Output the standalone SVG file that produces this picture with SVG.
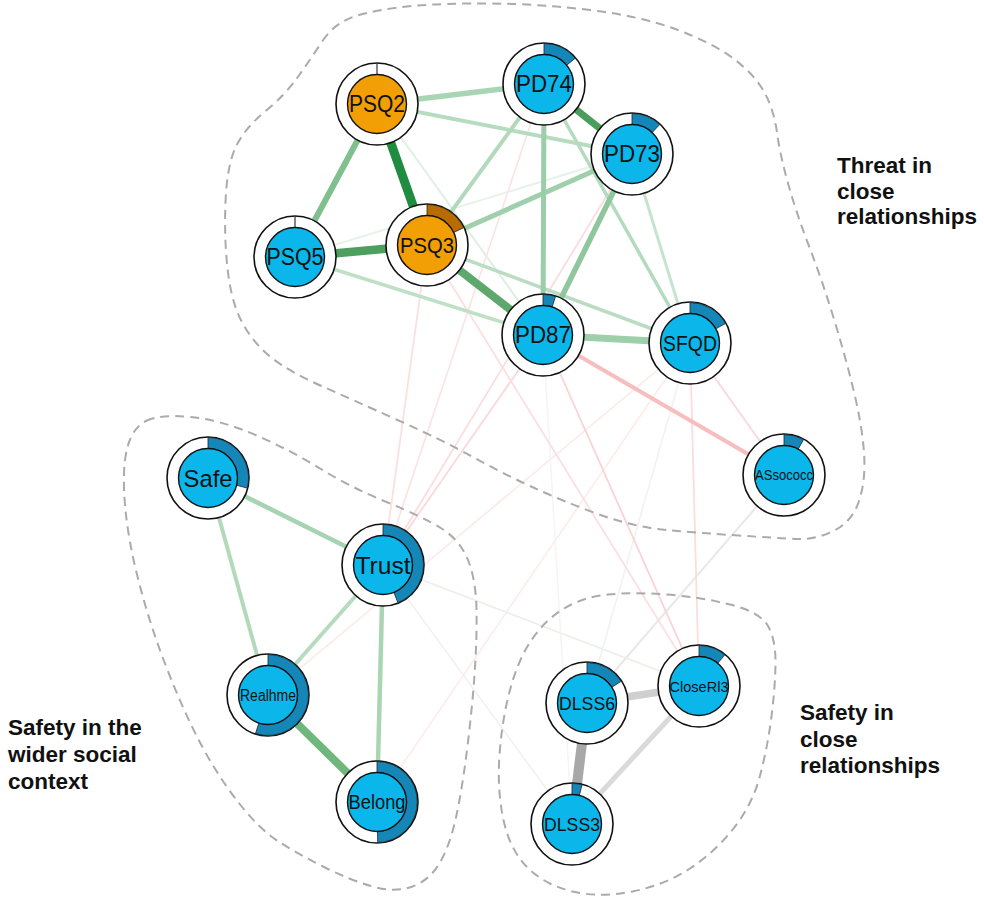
<svg xmlns="http://www.w3.org/2000/svg" width="984" height="901" viewBox="0 0 984 901">
<style>
.outer{fill:#fff;stroke:#111;stroke-width:1.6}
.inner{stroke:#111;stroke-width:1.4}
.blue .inner{fill:#0bb6ea}
.orange .inner{fill:#f29e05}
.blue .pie{fill:#1487b8;stroke:#222;stroke-width:0.8}
.orange .pie{fill:#b86c00;stroke:#222;stroke-width:0.8}
.tick{stroke:#333;stroke-width:1.2}
.lbl{font-family:"Liberation Sans",Arial,sans-serif;text-anchor:middle;dominant-baseline:central;fill:#111}
.hull{fill:none;stroke:#ababab;stroke-width:2;stroke-dasharray:9 6}
.grp{font-family:"Liberation Sans",Arial,sans-serif;font-weight:bold;font-size:22.5px;fill:#111}
#edges line{stroke-linecap:butt}
</style>
<rect width="984" height="901" fill="#fff"/>
<g id="edges">
  <line x1="690" y1="343" x2="377" y2="802" stroke="#fdeaeb" stroke-width="1.5"/>
  <line x1="268" y1="695" x2="690" y2="343" stroke="#fde8e9" stroke-width="1.6"/>
  <line x1="784" y1="475" x2="587" y2="703" stroke="#e8e8e8" stroke-width="2"/>
  <line x1="383" y1="565" x2="699" y2="686" stroke="#e8f0ea" stroke-width="1.5"/>
  <line x1="383" y1="565" x2="572" y2="824" stroke="#f0f0f0" stroke-width="1.5"/>
  <line x1="690" y1="343" x2="587" y2="703" stroke="#f1f1f1" stroke-width="1.5"/>
  <line x1="543" y1="335" x2="572" y2="824" stroke="#f4f4f4" stroke-width="1.5"/>
  <line x1="377" y1="104" x2="543" y2="335" stroke="#dfefe2" stroke-width="2"/>
  <line x1="295" y1="257" x2="632" y2="154" stroke="#e6f3e8" stroke-width="2"/>
  <line x1="427" y1="245" x2="383" y2="565" stroke="#fce0e1" stroke-width="1.8"/>
  <line x1="544" y1="84" x2="383" y2="565" stroke="#fce2e3" stroke-width="1.6"/>
  <line x1="632" y1="154" x2="383" y2="565" stroke="#fcdcde" stroke-width="1.8"/>
  <line x1="543" y1="335" x2="383" y2="565" stroke="#fbd9db" stroke-width="1.8"/>
  <line x1="543" y1="335" x2="699" y2="686" stroke="#fad3d5" stroke-width="1.8"/>
  <line x1="427" y1="245" x2="699" y2="686" stroke="#fcdfe0" stroke-width="1.8"/>
  <line x1="690" y1="343" x2="699" y2="686" stroke="#fcdcde" stroke-width="1.8"/>
  <line x1="690" y1="343" x2="784" y2="475" stroke="#fbd8da" stroke-width="1.8"/>
  <line x1="543" y1="335" x2="784" y2="475" stroke="#f7bec0" stroke-width="4"/>
  <line x1="427" y1="245" x2="690" y2="343" stroke="#b9dcc2" stroke-width="3.5"/>
  <line x1="295" y1="257" x2="543" y2="335" stroke="#bfe0c7" stroke-width="3.5"/>
  <line x1="544" y1="84" x2="690" y2="343" stroke="#b4dbbd" stroke-width="3.5"/>
  <line x1="632" y1="154" x2="690" y2="343" stroke="#c6e4cd" stroke-width="3"/>
  <line x1="377" y1="104" x2="632" y2="154" stroke="#b6dcc0" stroke-width="4"/>
  <line x1="544" y1="84" x2="427" y2="245" stroke="#b2d9bb" stroke-width="4"/>
  <line x1="632" y1="154" x2="427" y2="245" stroke="#a0d0ab" stroke-width="5"/>
  <line x1="377" y1="104" x2="544" y2="84" stroke="#a8d5b3" stroke-width="5.5"/>
  <line x1="544" y1="84" x2="543" y2="335" stroke="#9dcca9" stroke-width="5"/>
  <line x1="632" y1="154" x2="543" y2="335" stroke="#90c69d" stroke-width="5.5"/>
  <line x1="543" y1="335" x2="690" y2="343" stroke="#9ecfaa" stroke-width="7"/>
  <line x1="377" y1="104" x2="295" y2="257" stroke="#7fc08e" stroke-width="6"/>
  <line x1="544" y1="84" x2="632" y2="154" stroke="#4a9d5b" stroke-width="7"/>
  <line x1="427" y1="245" x2="543" y2="335" stroke="#5ea86e" stroke-width="8"/>
  <line x1="427" y1="245" x2="295" y2="257" stroke="#4c9f5e" stroke-width="8.5"/>
  <line x1="377" y1="104" x2="427" y2="245" stroke="#1f8c3f" stroke-width="9"/>
  <line x1="208" y1="478" x2="383" y2="565" stroke="#a6d4b0" stroke-width="4.5"/>
  <line x1="208" y1="478" x2="268" y2="695" stroke="#b3d9bb" stroke-width="4"/>
  <line x1="383" y1="565" x2="268" y2="695" stroke="#b6dbbe" stroke-width="4"/>
  <line x1="383" y1="565" x2="377" y2="802" stroke="#a9d5b2" stroke-width="4.5"/>
  <line x1="268" y1="695" x2="377" y2="802" stroke="#6fb77d" stroke-width="8"/>
  <line x1="572" y1="824" x2="699" y2="686" stroke="#dadada" stroke-width="5"/>
  <line x1="587" y1="703" x2="699" y2="686" stroke="#cfcfcf" stroke-width="7.5"/>
  <line x1="587" y1="703" x2="572" y2="824" stroke="#a8a8a8" stroke-width="10"/>
</g>
<g id="groups">
  <path class="hull" d="M322.5,41 Q335,22 357.5,15.5 Q380,9 412.5,6 Q445,3 492.5,3.5 Q540,4 590,10 Q640,16 676.5,29.5 Q713,43 734,59 Q755,75 764.5,92.5 Q774,110 777,132.5 Q780,155 788.5,185 Q797,215 809.5,247.5 Q822,280 833.5,317.5 Q845,355 853.5,390 Q862,425 864,452.5 Q866,480 859,501 Q852,522 833.5,531 Q815,540 796,539 Q777,538 738.5,535.5 Q700,533 666.5,530 Q633,527 596.5,513.5 Q560,500 530,486 Q500,472 471,456 Q442,440 397.5,420 Q353,400 321.5,386 Q290,372 272.5,358.5 Q255,345 243.5,325 Q232,305 228,272.5 Q224,240 225.5,202.5 Q227,165 236,146.5 Q245,128 265,111.5 Q285,95 297.5,77.5 Q310,60 322.5,41 Z"/>
  <path class="hull" d="M146,421 Q160,414 190.5,417 Q221,420 255.5,435 Q290,450 320,468.5 Q350,487 386.5,502 Q423,517 441.5,528.5 Q460,540 468,560 Q476,580 476.5,610 Q477,640 474.5,675 Q472,710 467,750 Q462,790 456,817.5 Q450,845 440,862.5 Q430,880 412.5,886.5 Q395,893 372.5,886.5 Q350,880 325,867.5 Q300,855 280,842.5 Q260,830 238.5,802.5 Q217,775 200,742.5 Q183,710 166.5,667.5 Q150,625 139,582.5 Q128,540 125,505 Q122,470 127,449 Q132,428 146,421 Z"/>
  <path class="hull" d="M564,608.5 Q583,597 608,594.5 Q633,592 666.5,594.5 Q700,597 730,604.5 Q760,612 768,626 Q776,640 775.5,665 Q775,690 771,720 Q767,750 759.5,777.5 Q752,805 733.5,828.5 Q715,852 690,868.5 Q665,885 632.5,891.5 Q600,898 572.5,891.5 Q545,885 527.5,867.5 Q510,850 503.5,820 Q497,790 499.5,755 Q502,720 510,690 Q518,660 531.5,640 Q545,620 564,608.5 Z"/>
  <text class="grp" x="837" y="173">Threat in</text>
  <text class="grp" x="837" y="199">close</text>
  <text class="grp" x="837" y="224">relationships</text>
  <text class="grp" x="8" y="735">Safety in the</text>
  <text class="grp" x="8" y="762">wider social</text>
  <text class="grp" x="8" y="789">context</text>
  <text class="grp" x="800" y="720">Safety in</text>
  <text class="grp" x="800" y="747">close</text>
  <text class="grp" x="800" y="773">relationships</text>
</g>
<g id="n-PSQ2" class="node orange" transform="translate(377,104)">
  <circle class="outer" r="41"/>
  <line class="tick" x1="0" y1="-29.5" x2="0" y2="-41"/>
  <circle class="inner" r="29.5"/>
  <text class="lbl" style="font-size:23px" textLength="56" lengthAdjust="spacingAndGlyphs">PSQ2</text>
</g>
<g id="n-PD74" class="node blue" transform="translate(544,84)">
  <circle class="outer" r="41"/>
  <path class="pie" d="M0,-40.5 A40.5,40.5 0 0 1 31.2,-25.81 L22.73,-18.8 A29.5,29.5 0 0 0 0,-29.5 Z"/>
  <circle class="inner" r="29.5"/>
  <text class="lbl" style="font-size:23px" textLength="56" lengthAdjust="spacingAndGlyphs">PD74</text>
</g>
<g id="n-PD73" class="node blue" transform="translate(632,154)">
  <circle class="outer" r="41"/>
  <path class="pie" d="M0,-40.5 A40.5,40.5 0 0 1 27.72,-29.52 L20.19,-21.51 A29.5,29.5 0 0 0 0,-29.5 Z"/>
  <circle class="inner" r="29.5"/>
  <text class="lbl" style="font-size:23px" textLength="56" lengthAdjust="spacingAndGlyphs">PD73</text>
</g>
<g id="n-PSQ5" class="node blue" transform="translate(295,257)">
  <circle class="outer" r="41"/>
  <line class="tick" x1="0" y1="-29.5" x2="0" y2="-41"/>
  <circle class="inner" r="29.5"/>
  <text class="lbl" style="font-size:23px" textLength="57" lengthAdjust="spacingAndGlyphs">PSQ5</text>
</g>
<g id="n-PSQ3" class="node orange" transform="translate(427,245)">
  <circle class="outer" r="41"/>
  <path class="pie" d="M0,-40.5 A40.5,40.5 0 0 1 36.64,-17.25 L26.69,-12.56 A29.5,29.5 0 0 0 0,-29.5 Z"/>
  <circle class="inner" r="29.5"/>
  <text class="lbl" style="font-size:22.5px" textLength="54" lengthAdjust="spacingAndGlyphs">PSQ3</text>
</g>
<g id="n-PD87" class="node blue" transform="translate(543,335)">
  <circle class="outer" r="41"/>
  <path class="pie" d="M0,-40.5 A40.5,40.5 0 0 1 12.51,-38.52 L9.12,-28.06 A29.5,29.5 0 0 0 0,-29.5 Z"/>
  <circle class="inner" r="29.5"/>
  <text class="lbl" style="font-size:23px" textLength="56" lengthAdjust="spacingAndGlyphs">PD87</text>
</g>
<g id="n-SFQD" class="node blue" transform="translate(690,343)">
  <circle class="outer" r="41"/>
  <path class="pie" d="M0,-40.5 A40.5,40.5 0 0 1 35.49,-19.51 L25.85,-14.21 A29.5,29.5 0 0 0 0,-29.5 Z"/>
  <circle class="inner" r="29.5"/>
  <text class="lbl" style="font-size:22px" textLength="54" lengthAdjust="spacingAndGlyphs">SFQD</text>
</g>
<g id="n-ASsococc" class="node blue" transform="translate(784,475)">
  <circle class="outer" r="41"/>
  <path class="pie" d="M0,-40.5 A40.5,40.5 0 0 1 19.51,-35.49 L14.21,-25.85 A29.5,29.5 0 0 0 0,-29.5 Z"/>
  <circle class="inner" r="29.5"/>
  <text class="lbl" style="font-size:14px" textLength="58" lengthAdjust="spacingAndGlyphs">ASsococc</text>
</g>
<g id="n-Safe" class="node blue" transform="translate(208,478)">
  <circle class="outer" r="41"/>
  <path class="pie" d="M0,-40.5 A40.5,40.5 0 0 1 39.23,10.07 L28.57,7.34 A29.5,29.5 0 0 0 0,-29.5 Z"/>
  <circle class="inner" r="29.5"/>
  <text class="lbl" style="font-size:24.5px" textLength="49" lengthAdjust="spacingAndGlyphs">Safe</text>
</g>
<g id="n-Trust" class="node blue" transform="translate(383,565)">
  <circle class="outer" r="41"/>
  <path class="pie" d="M0,-40.5 A40.5,40.5 0 0 1 14.91,37.66 L10.86,27.43 A29.5,29.5 0 0 0 0,-29.5 Z"/>
  <circle class="inner" r="29.5"/>
  <text class="lbl" style="font-size:24.5px" textLength="55" lengthAdjust="spacingAndGlyphs">Trust</text>
</g>
<g id="n-Realhme" class="node blue" transform="translate(268,695)">
  <circle class="outer" r="41"/>
  <path class="pie" d="M0,-40.5 A40.5,40.5 0 1 1 -12.51,38.52 L-9.12,28.06 A29.5,29.5 0 1 0 0,-29.5 Z"/>
  <circle class="inner" r="29.5"/>
  <text class="lbl" style="font-size:16px" textLength="56" lengthAdjust="spacingAndGlyphs">Realhme</text>
</g>
<g id="n-Belong" class="node blue" transform="translate(377,802)">
  <circle class="outer" r="41"/>
  <path class="pie" d="M0,-40.5 A40.5,40.5 0 0 1 0.71,40.49 L0.51,29.5 A29.5,29.5 0 0 0 0,-29.5 Z"/>
  <circle class="inner" r="29.5"/>
  <text class="lbl" style="font-size:19.5px" textLength="57" lengthAdjust="spacingAndGlyphs">Belong</text>
</g>
<g id="n-DLSS6" class="node blue" transform="translate(587,703)">
  <circle class="outer" r="41"/>
  <path class="pie" d="M0,-40.5 A40.5,40.5 0 0 1 34.19,-21.7 L24.91,-15.81 A29.5,29.5 0 0 0 0,-29.5 Z"/>
  <circle class="inner" r="29.5"/>
  <text class="lbl" style="font-size:18.5px" textLength="56" lengthAdjust="spacingAndGlyphs">DLSS6</text>
</g>
<g id="n-CloseRl3" class="node blue" transform="translate(699,686)">
  <circle class="outer" r="41"/>
  <path class="pie" d="M0,-40.5 A40.5,40.5 0 0 1 25.81,-31.2 L18.8,-22.73 A29.5,29.5 0 0 0 0,-29.5 Z"/>
  <circle class="inner" r="29.5"/>
  <text class="lbl" style="font-size:15.5px" textLength="59" lengthAdjust="spacingAndGlyphs">CloseRl3</text>
</g>
<g id="n-DLSS3" class="node blue" transform="translate(572,824)">
  <circle class="outer" r="41"/>
  <path class="pie" d="M0,-40.5 A40.5,40.5 0 0 1 10.07,-39.23 L7.34,-28.57 A29.5,29.5 0 0 0 0,-29.5 Z"/>
  <circle class="inner" r="29.5"/>
  <text class="lbl" style="font-size:18.5px" textLength="56" lengthAdjust="spacingAndGlyphs">DLSS3</text>
</g>
</svg>
